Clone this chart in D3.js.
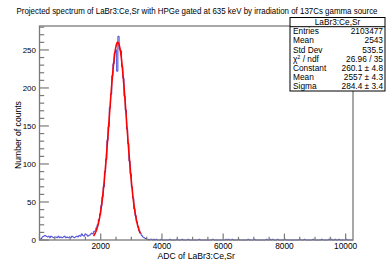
<!DOCTYPE html>
<html>
<head>
<meta charset="utf-8">
<script src="https://cdn.jsdelivr.net/npm/d3@7"></script>
<style>
  body { margin: 0; background: #fff; }
</style>
</head>
<body>
<div id="chart"></div>
<script>
// histogram of ADC values, 256 bins of 40 channels (0 - 10240)
var binWidth = 40
var counts = [
  0, 2, 4, 5, 6, 5, 4, 5, 3, 5, 4, 3, 4, 4, 3, 5, 3, 4, 3, 4,
  5, 3, 4, 3, 4, 3, 5, 4, 3, 4, 5, 4, 6, 5, 8, 6, 5, 8, 7, 5,
  6, 7, 9, 8, 11, 12, 16, 20, 27, 34, 45, 57, 70, 90, 106, 131, 149, 174, 192, 216,
  232, 246, 250, 222, 268, 251, 249, 228, 213, 189, 171, 146, 127, 104, 87, 70, 55, 41, 32, 24,
  18, 12, 9, 6, 4, 3, 2, 1, 1, 0, 1, 1, 0, 1, 0, 1, 0, 0, 0, 1,
  0, 0, 0, 0, 0, 0, 1, 0, 0, 0, 0, 0, 1, 0, 0, 0, 1, 0, 0, 0,
  0, 1, 0, 0, 0, 0, 0, 0, 0, 0, 1, 0, 0, 0, 0, 0, 0, 0, 0, 0,
  0, 1, 0, 0, 0, 0, 0, 0, 0, 0, 0, 0, 1, 0, 1, 0, 0, 1, 0, 0,
  0, 0, 1, 0, 0, 0, 0, 0, 0, 0, 1, 0, 0, 0, 0, 1, 0, 0, 0, 0,
  0, 0, 0, 0, 0, 1, 0, 0, 1, 0, 1, 0, 0, 0, 1, 0, 0, 0, 0, 0,
  1, 0, 0, 0, 0, 0, 0, 0, 0, 0, 0, 0, 1, 0, 0, 0, 1, 0, 0, 0,
  0, 0, 0, 1, 0, 0, 0, 0, 0, 0, 1, 0, 0, 0, 0, 0, 1, 0, 1, 0,
  0, 1, 0, 0, 1, 0, 0, 0, 0, 0, 1, 0, 0, 0, 0, 0
]

// gaus fit result
var fitConstant = 260.1, fitMean = 2557, fitSigma = 284.4
var fitRange = [1760, 3300]

var xTicks = [0, 2000, 4000, 6000, 8000, 10000]
var yTicks = [0, 50, 100, 150, 200, 250]

var statsTitle = "LaBr3:Ce,Sr"
var statsNames = ["Entries", "Mean", "Std Dev", "chi2", "Constant", "Mean", "Sigma"]
var statsValues = ["2103477", "2543", "535.5", "26.96 / 35", "260.1 \u00b1 4.8", "2557 \u00b1 4.3", "284.4 \u00b1 3.4"]

var W = 392, H = 267
var frame = { left: 39.5, right: 353, top: 26, bottom: 240 }
var font = "'Liberation Sans', Arimo, Arial, Helvetica, sans-serif"

var svg = d3.select("#chart").append("svg")
  .attr("width", W).attr("height", H)
  .attr("font-family", font)
  .style("font-family", font)

var x = d3.scaleLinear().domain([0, binWidth * counts.length]).range([frame.left, frame.right])
var y = d3.scaleLinear().domain([0, 281.5]).range([frame.bottom, frame.top])

var axisColor = "#7a7a7a"

// histogram, step line
var pts = counts.map(function(c, i) { return [i * binWidth, c] })
pts.push([counts.length * binWidth, counts[counts.length - 1]])
var step = d3.line()
  .x(function(d) { return x(d[0]) })
  .y(function(d) { return y(d[1]) })
  .curve(d3.curveStepAfter)

svg.append("path")
  .attr("d", step(pts))
  .attr("fill", "none")
  .attr("stroke", "#2b2bd0")
  .attr("stroke-opacity", 0.85)
  .attr("stroke-width", 1)

// fit curve
var fx = d3.range(fitRange[0], fitRange[1] + 1, 10)
var gaus = function(v) {
  return fitConstant * Math.exp(-0.5 * Math.pow((v - fitMean) / fitSigma, 2))
}
svg.append("path")
  .attr("d", d3.line()
    .x(function(d) { return x(d) })
    .y(function(d) { return y(gaus(d)) })(fx))
  .attr("fill", "none")
  .attr("stroke", "#ff0000")
  .attr("stroke-width", 1.6)

// frame
svg.append("rect")
  .attr("x", frame.left).attr("y", frame.top)
  .attr("width", frame.right - frame.left)
  .attr("height", frame.bottom - frame.top)
  .attr("fill", "none")
  .attr("stroke", axisColor)
  .attr("stroke-width", 1.3)

// x ticks (inside, pointing up)
var xMinor = d3.range(0, 10240, 500)
svg.selectAll(".xminor").data(xMinor).enter().append("line")
  .attr("x1", function(d) { return x(d) }).attr("x2", function(d) { return x(d) })
  .attr("y1", frame.bottom)
  .attr("y2", function(d) { return frame.bottom - (d % 2000 == 0 ? 6.4 : 3.2) })
  .attr("stroke", axisColor).attr("stroke-width", 1.2)

svg.selectAll(".xlab").data(xTicks.slice(1)).enter().append("text")
  .attr("x", function(d) { return x(d) })
  .attr("y", 249)
  .attr("text-anchor", "middle")
  .attr("font-size", 8.3)
  .text(function(d) { return d })

// y ticks (inside, pointing right)
var yMinor = d3.range(0, 281, 10)
svg.selectAll(".yminor").data(yMinor).enter().append("line")
  .attr("y1", function(d) { return y(d) }).attr("y2", function(d) { return y(d) })
  .attr("x1", frame.left)
  .attr("x2", function(d) { return frame.left + (d % 50 == 0 ? 9.4 : 4.7) })
  .attr("stroke", axisColor).attr("stroke-width", 1.2)

svg.selectAll(".ylab").data(yTicks).enter().append("text")
  .attr("x", 36)
  .attr("y", function(d) { return y(d) + 3 })
  .attr("text-anchor", "end")
  .attr("font-size", 8)
  .text(function(d) { return d })

// titles
svg.append("text")
  .attr("x", 16.5).attr("y", 14.3)
  .attr("font-size", 8.2)
  .attr("textLength", 361)
  .attr("lengthAdjust", "spacingAndGlyphs")
  .text("Projected spectrum of LaBr3:Ce,Sr with HPGe gated at 635 keV by irradiation of 137Cs gamma source")

svg.append("text")
  .attr("x", (frame.left + frame.right) / 2).attr("y", 259)
  .attr("text-anchor", "middle")
  .attr("font-size", 8.6)
  .text("ADC of LaBr3:Ce,Sr")

svg.append("text")
  .attr("transform", "translate(20.5," + ((frame.top + frame.bottom) / 2 + 2) + ") rotate(-90)")
  .attr("text-anchor", "middle")
  .attr("font-size", 8.6)
  .text("Number of counts")

// stats box
var box = { x: 290, y: 17.5, w: 95, h: 73.5 }
var rowH = box.h / (statsNames.length + 1)
var stats = svg.append("g")
stats.append("rect")
  .attr("x", box.x).attr("y", box.y).attr("width", box.w).attr("height", box.h)
  .attr("fill", "#fff").attr("stroke", "#000").attr("stroke-width", 1)
stats.append("line")
  .attr("x1", box.x).attr("x2", box.x + box.w)
  .attr("y1", box.y + rowH).attr("y2", box.y + rowH)
  .attr("stroke", "#000").attr("stroke-width", 1)
stats.append("text")
  .attr("x", box.x + box.w / 2).attr("y", box.y + rowH / 2 + 3)
  .attr("text-anchor", "middle").attr("font-size", 8.3)
  .text(statsTitle)

statsNames.forEach(function(n, i) {
  var cy = box.y + rowH * (i + 1.5) + 3
  var t = stats.append("text")
    .attr("x", box.x + 3).attr("y", cy).attr("font-size", 8.3)
  if (n == "chi2") {
    t.append("tspan").text("\u03c7")
    t.append("tspan").attr("font-size", 5.5).attr("dy", -3).text("2")
    t.append("tspan").attr("dy", 3).text(" / ndf")
  } else {
    t.text(n)
  }
  stats.append("text")
    .attr("x", box.x + box.w - 2).attr("y", cy)
    .attr("text-anchor", "end").attr("font-size", 8.3)
    .text(statsValues[i])
})
</script>
</body>
</html>
